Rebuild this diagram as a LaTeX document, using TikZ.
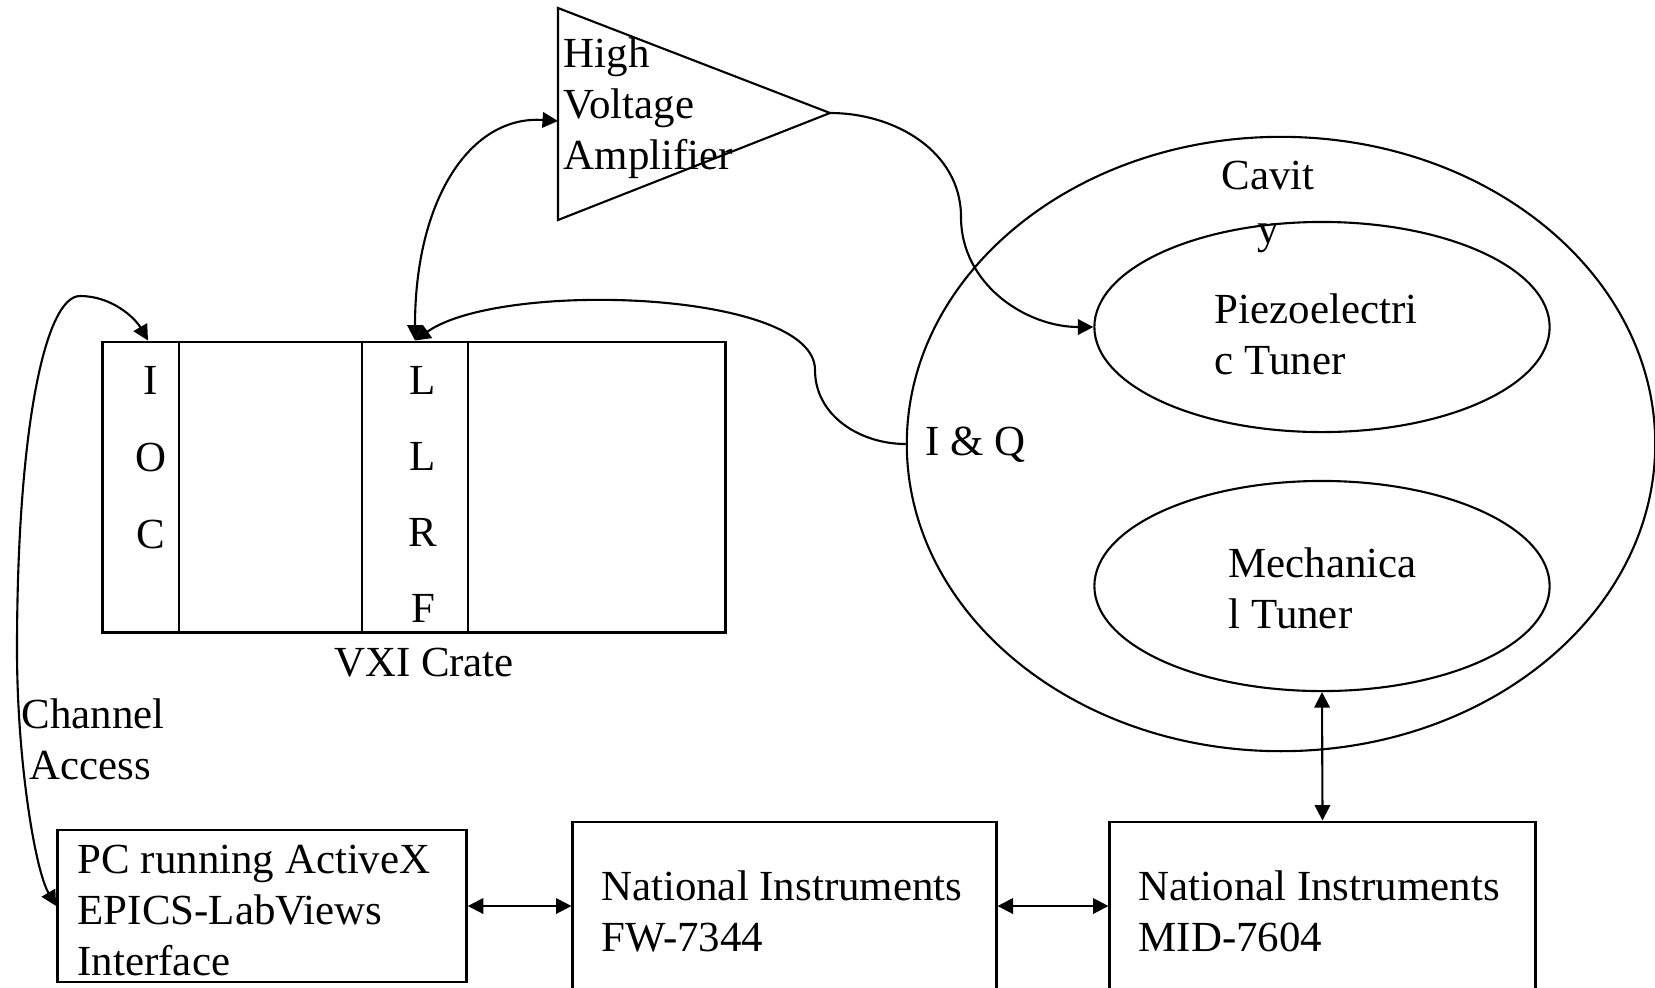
\documentclass[tikz,border=0pt]{standalone}
\usepackage{fontspec}
\setmainfont{Liberation Serif}
\usetikzlibrary{shapes.geometric,arrows.meta}

\tikzset{
  box/.style={draw, line width=0.8pt, inner sep=0pt},
  oval/.style={draw, ellipse, line width=0.6pt, inner sep=0pt},
  txt/.style={inner sep=0pt, align=left, font=\fontsize{12.2}{14.5}\selectfont},
  link/.style={line width=0.6pt, >={Triangle[length=4.4pt,width=4.4pt]}},
}

\begin{document}
\begin{tikzpicture}[x=0.01cm, y=-0.01cm]
  \useasboundingbox (0,0) rectangle (1655,987);
  \clip (0,0) rectangle (1655,987);

  % VXI crate with its two cards
  \node[box, minimum width=6.22cm, minimum height=2.9cm] (crate) at (414,487) {};
  \node[box, minimum width=0.76cm, minimum height=2.9cm] (ioc) at (141,487) {};
  \node[box, minimum width=1.06cm, minimum height=2.9cm] (llrf) at (415,487) {};
  \foreach \letter [count=\i] in {I,O,C}
    \node[txt] (ioc\i) at (151,380+77*\i-77) {\letter};
  \foreach \letter [count=\i] in {L,L,R,F}
    \node[txt] (llrf\i) at (423,380+76*\i-76) {\letter};
  \node[txt] (cratelabel) at (424,663) {VXI Crate};

  % amplifier
  \draw[line width=0.6pt] (558,8) -- (830,113) -- (558,220) -- cycle;
  \coordinate (ampin) at (558,121);
  \coordinate (ampout) at (830,113);
  \node[txt, anchor=west] (amptext) at (563,108) {High\\Voltage\\Amplifier};

  % cavity and tuners
  \node[oval, minimum width=7.48cm, minimum height=6.14cm] (cavity) at (1281,444) {};
  \node[txt, align=center] (cavitytext) at (1268,207) {Cavit\\[1pt]y};
  \node[oval, minimum width=4.55cm, minimum height=2.1cm] (piezo) at (1322,327) {};
  \node[txt, anchor=west] (piezotext) at (1214,334) {Piezoelectri\\c Tuner};
  \node[oval, minimum width=4.55cm, minimum height=2.1cm] (mech) at (1322,586) {};
  \node[txt, anchor=west] (mechtext) at (1228,588) {Mechanica\\l Tuner};
  \node[txt, anchor=west] (iq) at (925,445) {I \& Q};

  % bottom row
  \node[box, minimum width=4.085cm, minimum height=1.52cm] (pc) at (262,906) {};
  \node[txt, anchor=west] (pctext) at (77,910) {PC running ActiveX\\EPICS-LabViews\\Interface};
  \node[box, minimum width=4.23cm, minimum height=1.68cm] (fw) at (784.5,906) {};
  \node[txt, anchor=west] (fwtext) at (600.5,911) {National Instruments\\FW-7344};
  \node[box, minimum width=4.25cm, minimum height=1.68cm] (mid) at (1322.5,906) {};
  \node[txt, anchor=west] (midtext) at (1138,911) {National Instruments\\MID-7604};
  \node[txt, anchor=west] (catext) at (21,739) {Channel\\\hspace*{2.3pt}Access};

  % connections
  \draw[link, <->] (pc.west) .. controls (35,870) and (17,760) .. (17,650)
    .. controls (17,430) and (45,296) .. (80,296)
    .. controls (112,296) and (135,318) .. ([xshift=0.07cm]ioc.north);
  \draw[link, <->] (ampin) .. controls (470,115) and (415,200) .. (llrf.north);
  \draw[link, ->] (ampout) to[out=0,in=90] (961,217) to[out=-90,in=180] (piezo.west);
  \draw[link, ->] (cavity.west) to[out=180,in=-90] (815,370)
    .. controls (815,290) and (500,280) .. (llrf.north);
  \draw[link, <->] (pc.east) -- (fw.west);
  \draw[link, <->] (fw.east) -- (mid.west);
  \draw[link, <->] (mid.north) -- (mech.south);
\end{tikzpicture}
\end{document}
